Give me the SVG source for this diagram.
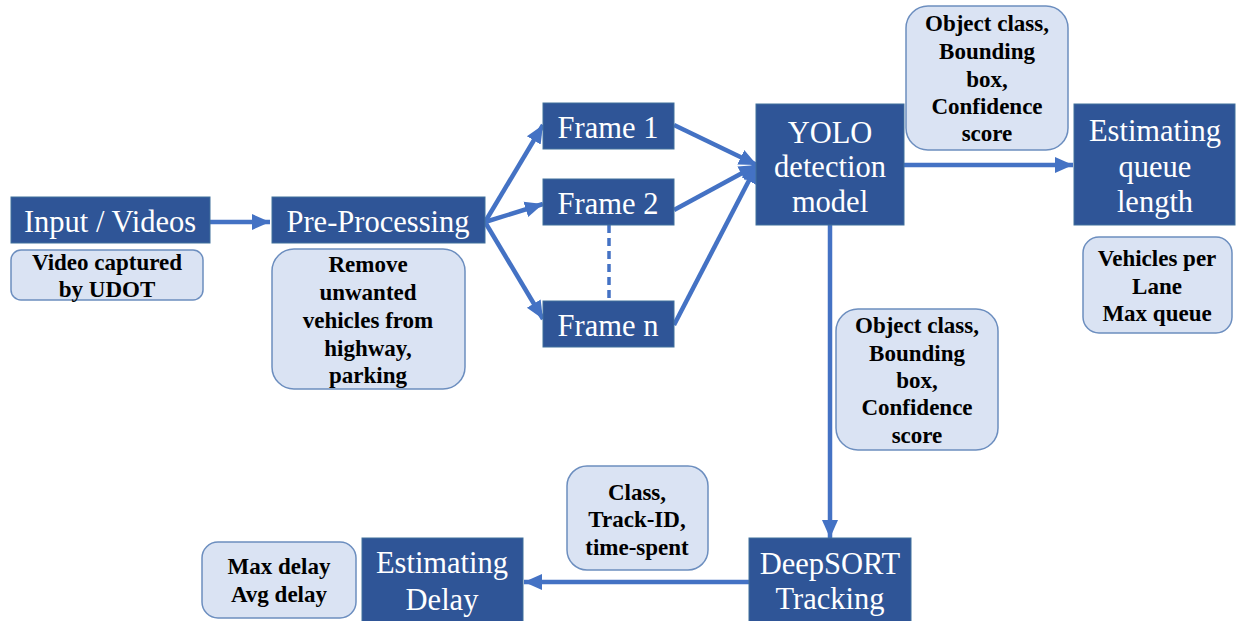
<svg xmlns="http://www.w3.org/2000/svg" width="1238" height="621" viewBox="0 0 1238 621">
<style>
.dark{fill:#2F5597;stroke:#41719C;stroke-width:1}
.light{fill:#DAE3F3;stroke:#6C8EBF;stroke-width:1.5}
.t{font-family:"Liberation Serif","Times New Roman",serif;font-size:30.5px;fill:#FFFFFF;text-anchor:middle}
.b{font-family:"Liberation Serif","Times New Roman",serif;font-size:23px;font-weight:bold;fill:#000000;text-anchor:middle}
.c{stroke:#4472C4;stroke-width:4.5;fill:none}
</style>
<defs>
<marker id="ah" markerUnits="userSpaceOnUse" markerWidth="20" markerHeight="20" viewBox="0 0 20 20" refX="18" refY="10" orient="auto">
<path d="M0,2 L18,10 L0,18 Z" fill="#4472C4"/>
</marker>
</defs>
<rect width="1238" height="621" fill="#FFFFFF"/>
<g id="connectors">
<line class="c" x1="210" y1="222" x2="270" y2="222" marker-end="url(#ah)"/>
<line class="c" x1="485" y1="222" x2="543" y2="125" marker-end="url(#ah)"/>
<line class="c" x1="485" y1="222" x2="543" y2="204" marker-end="url(#ah)"/>
<line class="c" x1="485" y1="222" x2="543" y2="319" marker-end="url(#ah)"/>
<line class="c" x1="674" y1="125" x2="757" y2="165" marker-end="url(#ah)"/>
<line class="c" x1="674" y1="210" x2="757" y2="165" marker-end="url(#ah)"/>
<line class="c" x1="674" y1="325" x2="757" y2="165" marker-end="url(#ah)"/>
<line class="c" x1="904" y1="165" x2="1073" y2="165" marker-end="url(#ah)"/>
<line class="c" x1="830" y1="225" x2="830" y2="538" marker-end="url(#ah)"/>
<line class="c" x1="749" y1="582" x2="524" y2="582" marker-end="url(#ah)"/>
<line x1="609" y1="225" x2="609" y2="301" stroke="#4472C4" stroke-width="3.5" stroke-dasharray="8,5"/>
</g>
<g id="input">
<rect class="dark" x="11" y="197" width="199" height="46"/>
<text class="t" x="110" y="232">Input / Videos</text>
</g>
<g id="input-note">
<rect class="light" x="11" y="250" width="192" height="50" rx="10"/>
<text class="b" x="107" y="270">Video captured</text>
<text class="b" x="107" y="297">by UDOT</text>
</g>
<g id="preprocessing">
<rect class="dark" x="272" y="197" width="213" height="46"/>
<text class="t" x="378" y="232">Pre-Processing</text>
</g>
<g id="preprocessing-note">
<rect class="light" x="272" y="249" width="193" height="140" rx="22"/>
<text class="b" x="368" y="272">Remove</text>
<text class="b" x="368" y="300">unwanted</text>
<text class="b" x="368" y="328">vehicles from</text>
<text class="b" x="368" y="356">highway,</text>
<text class="b" x="368" y="383">parking</text>
</g>
<g id="frame1">
<rect class="dark" x="543" y="103" width="131" height="46"/>
<text class="t" x="608" y="138">Frame 1</text>
</g>
<g id="frame2">
<rect class="dark" x="543" y="179" width="131" height="46"/>
<text class="t" x="608" y="214">Frame 2</text>
</g>
<g id="framen">
<rect class="dark" x="543" y="301" width="131" height="46"/>
<text class="t" x="608" y="336">Frame n</text>
</g>
<g id="yolo">
<rect class="dark" x="756" y="104" width="148" height="121"/>
<text class="t" x="830" y="143">YOLO</text>
<text class="t" x="830" y="177">detection</text>
<text class="t" x="830" y="212">model</text>
</g>
<g id="yolo-note-top">
<rect class="light" x="906" y="6" width="162" height="144" rx="22"/>
<text class="b" x="987" y="31">Object class,</text>
<text class="b" x="987" y="59">Bounding</text>
<text class="b" x="987" y="87">box,</text>
<text class="b" x="987" y="114">Confidence</text>
<text class="b" x="987" y="141">score</text>
</g>
<g id="queue">
<rect class="dark" x="1074" y="104" width="161" height="121"/>
<text class="t" x="1155" y="141">Estimating</text>
<text class="t" x="1155" y="177">queue</text>
<text class="t" x="1155" y="212">length</text>
</g>
<g id="queue-note">
<rect class="light" x="1083" y="237" width="149" height="96" rx="16"/>
<text class="b" x="1157" y="266">Vehicles per</text>
<text class="b" x="1157" y="294">Lane</text>
<text class="b" x="1157" y="321">Max queue</text>
</g>
<g id="yolo-note-down">
<rect class="light" x="836" y="309" width="162" height="141" rx="22"/>
<text class="b" x="917" y="333">Object class,</text>
<text class="b" x="917" y="361">Bounding</text>
<text class="b" x="917" y="388">box,</text>
<text class="b" x="917" y="415">Confidence</text>
<text class="b" x="917" y="443">score</text>
</g>
<g id="deepsort">
<rect class="dark" x="749" y="538" width="162" height="84"/>
<text class="t" x="830" y="574">DeepSORT</text>
<text class="t" x="830" y="609">Tracking</text>
</g>
<g id="deepsort-note">
<rect class="light" x="567" y="466" width="141" height="104" rx="20"/>
<text class="b" x="637" y="500">Class,</text>
<text class="b" x="637" y="527">Track-ID,</text>
<text class="b" x="637" y="555">time-spent</text>
</g>
<g id="delay">
<rect class="dark" x="362" y="538" width="161" height="84"/>
<text class="t" x="442" y="573">Estimating</text>
<text class="t" x="442" y="610">Delay</text>
</g>
<g id="delay-note">
<rect class="light" x="202" y="542" width="154" height="76" rx="16"/>
<text class="b" x="279" y="574">Max delay</text>
<text class="b" x="279" y="602">Avg delay</text>
</g>
</svg>
